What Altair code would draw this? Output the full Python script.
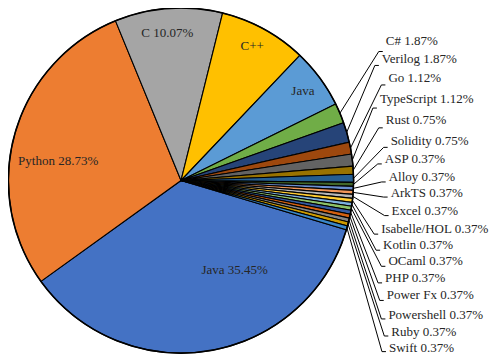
import math
import altair as alt
import pandas as pd

# ---------------- data ----------------
languages = ["Java", "Python", "C", "C++", "JavaScript", "C#", "Verilog", "Go",
             "TypeScript", "Rust", "Solidity", "ASP", "Alloy", "ArkTS", "Excel",
             "Isabelle/HOL", "Kotlin", "OCaml", "PHP", "Power Fx", "Powershell",
             "Ruby", "Swift"]
shares = [35.45, 28.73, 10.07, 8.21, 5.60, 1.87, 1.87, 1.12,
          1.12, 0.75, 0.75, 0.37, 0.37, 0.37, 0.37,
          0.37, 0.37, 0.37, 0.37, 0.37, 0.37,
          0.37, 0.37]
colors = ["#4472C4", "#ED7D31", "#A5A5A5", "#FFC000", "#5B9BD5", "#70AD47",
          "#264478", "#9E480E", "#636363", "#997300", "#255E91", "#43682B",
          "#698ED0", "#F1975A", "#B7B7B7", "#FFCD33", "#7CAFDD", "#8CC168",
          "#335AA1", "#D26012", "#848484", "#CC9A00", "#3A87C8"]

# labels drawn inside the pie (text as shown in the picture)
inside_names = ["Java", "Python", "C", "C++", "JavaScript"]
inside_text = ["Java 35.45%", "Python 28.73%", "C 10.07%", "C++", "Java"]

# ---------------- layout ----------------
W, H = 483, 347
K = 0.975                      # overall scale relative to reference
REF_C = (180.0, 180.0)         # reference pie centre (page px)
NEW_C = (181.0, 180.5)         # new pie centre (page px)
R = 177 * K
START_DEG = 106.6              # first slice starts here (clockwise from 12 o'clock)


def to_plot(px, py):
    x = NEW_C[0] + (px - REF_C[0]) * K - 8
    y = NEW_C[1] + (py - REF_C[1]) * K - 8
    return x, y


CX, CY = NEW_C[0] - 8, NEW_C[1] - 8

# inside label centres (reference page px)
inside_pos = [(235, 272), (54, 160), (166, 28.5), (253, 41.7), (305, 87.7)]
# outside label left/centre (reference page px) and elbow drop
outside_pos = [(390, 36.7), (386, 55), (392.7, 75), (384, 96.7), (390, 118),
               (395, 139), (389, 158), (393, 176), (395, 193), (396, 211),
               (385.3, 230), (387.3, 246.5), (392.7, 263), (389.3, 279.5),
               (391, 297), (392.7, 318), (395.7, 335), (393.3, 351.5)]
elbow_dy = [11, 7, 7, 9, 8, 7, 5, 5.5, 4, 5, 5, 5, 5, 5.5, 6, 4, 4.5, 4]

total = sum(shares)
a0 = math.radians(START_DEG)

pie_df = pd.DataFrame({"lang": languages, "share": shares,
                       "idx": list(range(len(languages)))})

# inside label table
in_rows = []
for name, txt, (px, py) in zip(inside_names, inside_text, inside_pos):
    x, y = to_plot(px, py)
    in_rows.append({"x": x, "y": y, "t": txt})
in_df = pd.DataFrame(in_rows)

# outside labels + leader lines
out_rows, seg_rows = [], []
cum = 0.0
mids = []
for s in shares:
    mids.append(a0 + 2 * math.pi * (cum + s / 2) / total)
    cum += s
for j, (px, py) in enumerate(outside_pos):
    i = 5 + j
    x, y = to_plot(px, py)
    out_rows.append({"x": x, "y": y, "t": f"{languages[i]} {shares[i]:.2f}%"})
    a = mids[i]
    sx = CX + R * math.sin(a)
    sy = CY - R * math.cos(a)
    ex, ey = x - 7, y + elbow_dy[j] * K
    seg_rows.append({"x": sx, "y": sy, "x2": ex, "y2": ey})
    seg_rows.append({"x": ex, "y": ey, "x2": x - 3, "y2": ey})
out_df = pd.DataFrame(out_rows)
seg_df = pd.DataFrame(seg_rows)

FONT = "Liberation Serif"
TXT = "#262626"

pie = alt.Chart(pie_df).mark_arc(
    outerRadius=R, stroke="black", strokeWidth=1.1
).encode(
    theta=alt.Theta("share:Q", stack=True,
                    scale=alt.Scale(range=[a0, a0 + 2 * math.pi])),
    color=alt.Color("lang:N", scale=alt.Scale(domain=languages, range=colors),
                    legend=None),
    order=alt.Order("idx:Q"),
    x=alt.value(CX),
    y=alt.value(CY),
)

rim = alt.Chart(pie_df.head(1)).mark_arc(
    outerRadius=R, fill=None, stroke="black", strokeWidth=1.6
).encode(
    theta=alt.value(2 * math.pi),
    x=alt.value(CX),
    y=alt.value(CY),
)

leaders = alt.Chart(seg_df).mark_rule(color="black", strokeWidth=1).encode(
    x=alt.X("x:Q", scale=None), y=alt.Y("y:Q", scale=None),
    x2="x2:Q", y2="y2:Q",
)

inside = alt.Chart(in_df).mark_text(fontSize=13, align="center", baseline="middle").encode(
    x=alt.X("x:Q", scale=None), y=alt.Y("y:Q", scale=None), text="t:N"
)

outside = alt.Chart(out_df).mark_text(fontSize=13, align="left", baseline="middle").encode(
    x=alt.X("x:Q", scale=None), y=alt.Y("y:Q", scale=None), text="t:N"
)

chart = alt.layer(pie, rim, leaders, inside, outside).properties(
    width=W, height=H, padding=0, autosize="none", background="white"
).configure_view(stroke=None).configure_text(font=FONT, color=TXT)

chart.save("out.html", embed_options={"renderer": "svg", "actions": False})
